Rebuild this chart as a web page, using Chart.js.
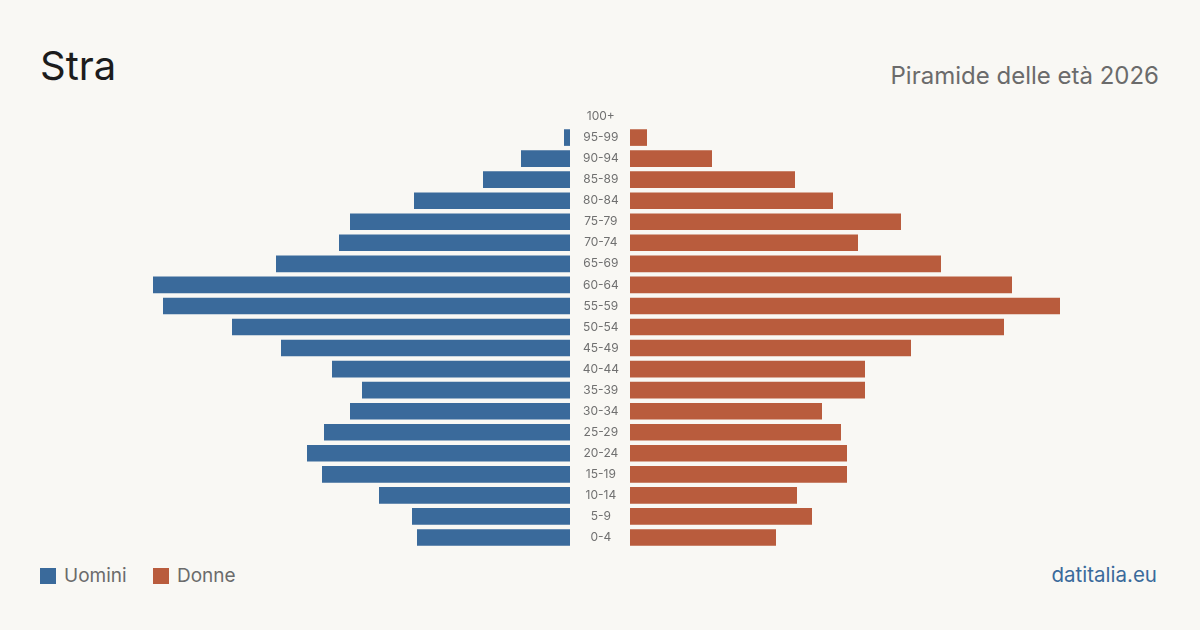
<!DOCTYPE html>
<html>
<head>
<meta charset="utf-8">
<script src="https://cdn.jsdelivr.net/npm/chart.js@4"></script>
<style>
  html, body { margin: 0; padding: 0; }
  body { width: 1200px; height: 630px; background: #f9f8f4; position: relative; overflow: hidden; font-family: Inter, sans-serif; }
  #title { position: absolute; left: 40px; top: 40px; font-size: 40px; color: #1c1c1c; line-height: 52px; }
  #subtitle { position: absolute; right: 41px; top: 60px; font-size: 24px; color: #6b6b6b; line-height: 32px; }
  #left { position: absolute; left: 140px; top: 106px; width: 430px; height: 442px; }
  #right { position: absolute; left: 570px; top: 106px; width: 490px; height: 442px; }
  .legend { position: absolute; top: 564px; font-size: 19px; color: #6b6b6b; line-height: 24px; }
  .legend span { display: inline-block; width: 16px; height: 16px; vertical-align: -2px; margin-right: 8px; }
  #site { position: absolute; right: 43px; top: 563px; font-size: 20.5px; color: #3a6a9b; line-height: 24px; }
</style>
</head>
<body>
<div id="title">Stra</div>
<div id="subtitle">Piramide delle età 2026</div>
<div id="left"><canvas id="menChart"></canvas></div>
<div id="right"><canvas id="womenChart"></canvas></div>
<div class="legend" style="left:40px"><span style="background:#3a6a9b"></span>Uomini</div>
<div class="legend" style="left:153px"><span style="background:#b95c3d"></span>Donne</div>
<div id="site">datitalia.eu</div>
<script>
const ageGroups = ['100+', '95-99', '90-94', '85-89', '80-84', '75-79', '70-74', '65-69', '60-64', '55-59',
    '50-54', '45-49', '40-44', '35-39', '30-34', '25-29', '20-24', '15-19', '10-14', '5-9', '0-4'];
const men = [0, 6, 49, 87, 156, 220, 231, 294, 417, 407, 338, 289, 238, 208, 220, 246, 263, 248, 191, 158, 153];
const women = [0, 17, 82, 165, 203, 271, 228, 311, 382, 430, 374, 281, 235, 235, 192, 211, 217, 217, 167, 182, 146];
const maxValue = 430;

const menColor = '#3a6a9b';
const womenColor = '#b95c3d';

Chart.defaults.font.family = 'Inter, sans-serif';
Chart.defaults.animation = false;

// Men: bars grow to the left
new Chart(document.getElementById('menChart'), {
    type: 'bar',
    data: {
        labels: ageGroups,
        datasets: [{
            label: 'Uomini',
            data: men,
            backgroundColor: menColor,
            barPercentage: 0.79,
            categoryPercentage: 1
        }]
    },
    options: {
        indexAxis: 'y',
        responsive: true,
        maintainAspectRatio: false,
        layout: { padding: 0 },
        plugins: { legend: { display: false }, tooltip: { enabled: false } },
        scales: {
            x: { reverse: true, min: 0, max: maxValue, display: false },
            y: { display: false }
        }
    }
});

// Women: bars grow to the right, age labels in the middle column
new Chart(document.getElementById('womenChart'), {
    type: 'bar',
    data: {
        labels: ageGroups,
        datasets: [{
            label: 'Donne',
            data: women,
            backgroundColor: womenColor,
            barPercentage: 0.79,
            categoryPercentage: 1
        }]
    },
    options: {
        indexAxis: 'y',
        responsive: true,
        maintainAspectRatio: false,
        layout: { padding: 0 },
        plugins: { legend: { display: false }, tooltip: { enabled: false } },
        scales: {
            x: { min: 0, max: maxValue, display: false },
            y: {
                grid: { display: false },
                border: { display: false },
                ticks: {
                    crossAlign: 'center',
                    padding: 3,
                    color: '#707070',
                    font: { size: 12 }
                },
                // fixed 60px label column, no extra top/bottom padding
                afterFit: (scale) => {
                    scale.width = 60;
                    scale.paddingTop = 0;
                    scale.paddingBottom = 0;
                }
            }
        }
    }
});
</script>
</body>
</html>
